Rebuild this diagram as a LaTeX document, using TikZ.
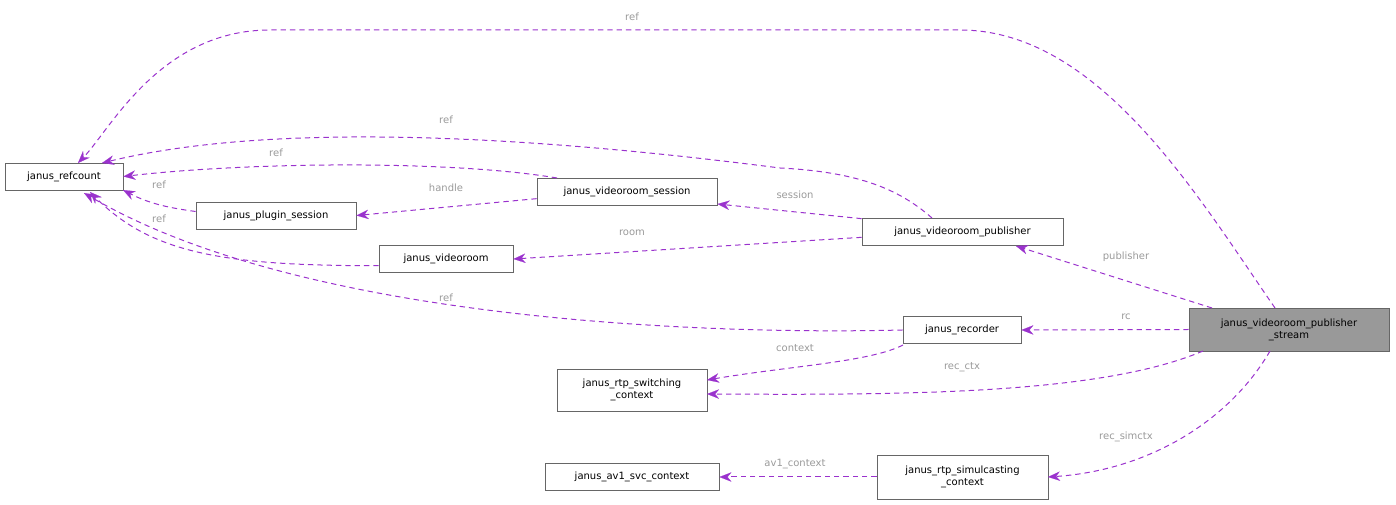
\documentclass[tikz,border=0pt]{standalone}
\usepackage{fontspec}
\setmainfont{DejaVu Sans}
\usetikzlibrary{arrows.meta}
\definecolor{ep}{HTML}{9A32CD}
\definecolor{lg}{HTML}{9A9A9A}
\begin{document}
\begin{tikzpicture}[x=0.75pt,y=-0.75pt,
  box/.style={draw=black!60,fill=white,font=\fontsize{7.5}{9}\selectfont,inner sep=1pt,align=center,line width=0.6pt},
  edge/.style={draw=ep,dash pattern=on 4pt off 3pt,line width=0.75pt,-{Stealth[length=9pt,width=7pt,fill=ep,line width=0.1pt]}},
  lbl/.style={text=lg,font=\fontsize{7.5}{9}\selectfont,inner sep=1pt}]
\useasboundingbox (0,0) rectangle (1396,505);
\node[box,minimum width=88.5pt,minimum height=20.25pt] (rc) at (64,176.5) {janus\_refcount};
\node[box,minimum width=120pt,minimum height=20.25pt] (ps) at (276,215.5) {janus\_plugin\_session};
\node[box,minimum width=135pt,minimum height=20.25pt] (vs) at (627,192) {janus\_videoroom\_session};
\node[box,minimum width=100.5pt,minimum height=20.25pt] (vr) at (446,259) {janus\_videoroom};
\node[box,minimum width=150.75pt,minimum height=20.25pt] (pub) at (962.5,232) {janus\_videoroom\_publisher};
\node[box,minimum width=88.5pt,minimum height=20.25pt] (rec) at (962,330) {janus\_recorder};
\node[box,fill=black!40,minimum width=150pt,minimum height=32.25pt] (st) at (1289,329.5) {janus\_videoroom\_publisher\\\_stream};
\node[box,minimum width=112.5pt,minimum height=31.5pt] (sw) at (632,390) {janus\_rtp\_switching\\\_context};
\node[box,minimum width=130.5pt,minimum height=20.25pt] (av) at (632,477) {janus\_av1\_svc\_context};
\node[box,minimum width=128.25pt,minimum height=33pt] (sim) at (962.5,477) {janus\_rtp\_simulcasting\\\_context};

\draw[edge] (1275,308) .. controls (1200,200) and (1100,30) .. (960,30) -- (270,30) .. controls (160,30) and (110,130) .. (78,163);
\node[lbl] at (632,17) {ref};
\draw[edge] (932,218) .. controls (900,190) and (860,172) .. (780,168) .. controls (600,145) and (300,115) .. (102,163);
\node[lbl] at (446,120) {ref};
\draw[edge] (557,178) .. controls (450,160) and (250,162) .. (rc.east);
\node[lbl] at (276,153) {ref};
\draw[edge] ([yshift=3pt]ps.west) .. controls (170,208) and (150,204) .. (123,190);
\node[lbl] at (159,185) {ref};
\draw[edge] ([yshift=-5pt]vr.west) .. controls (220,266) and (150,252) .. (90,192);
\node[lbl] at (159,219) {ref};
\draw[edge] (rec.west) .. controls (700,335) and (300,320) .. (84,193);
\node[lbl] at (446,298) {ref};
\draw[edge] ([yshift=-5pt]vs.west) -- (ps.east);
\node[lbl] at (446,188) {handle};
\draw[edge] ([yshift=10pt]pub.west) -- ([yshift=-9pt]vs.east);
\node[lbl] at (795,195) {session};
\draw[edge] ([yshift=-4pt]pub.west) -- (vr.east);
\node[lbl] at (632,233) {room};
\draw[edge] (1212,308) -- (1016,246);
\node[lbl] at (1126,257) {publisher};
\draw[edge] (st.west) -- (rec.east);
\node[lbl] at (1126,317) {rc};
\draw[edge] (903,345) .. controls (870,362) and (790,366) .. (707,380);
\node[lbl] at (795,348) {context};
\draw[edge] (1203,351) .. controls (1100,395) and (900,395) .. (707,394);
\node[lbl] at (962,367) {rec\_ctx};
\draw[edge] (1270,351) .. controls (1230,420) and (1150,470) .. (1048,477);
\node[lbl] at (1126,437) {rec\_simctx};
\draw[edge] (sim.west) -- (av.east);
\node[lbl] at (795,464) {av1\_context};
\end{tikzpicture}
\end{document}
